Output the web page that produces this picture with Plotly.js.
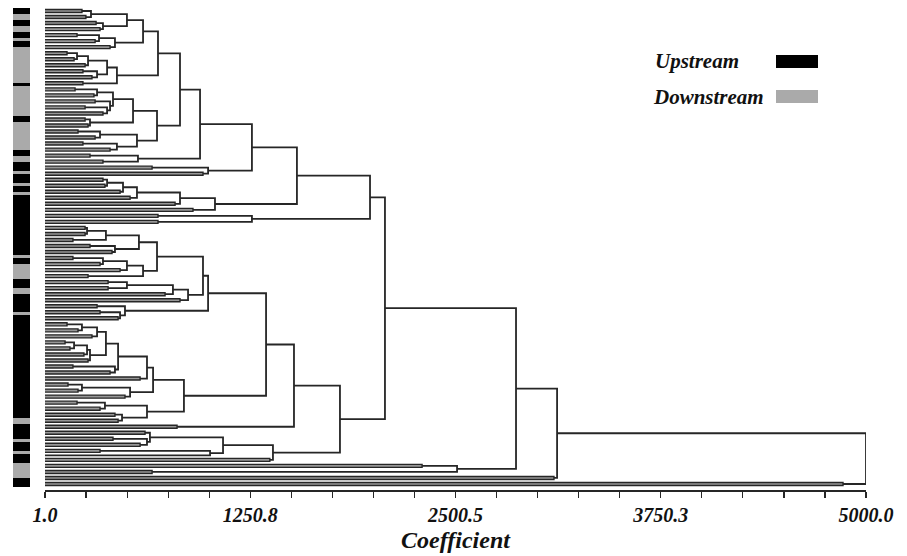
<!DOCTYPE html>
<html><head><meta charset="utf-8">
<script src="https://cdn.plot.ly/plotly-3.0.1.min.js"></script>
<style>html,body{margin:0;padding:0;background:#fff}#chart{width:907px;height:556px}</style>
</head><body><div id="chart"></div>
<script>
// ---------------- DATA ----------------
// Sample groups along the strip, top to bottom, as runs (U = Upstream, D = Downstream)
const runGroups  = ['U','D','U','D','U','D','U','D','U','D','U','D','U','D','U','D','U','D','U','D','U','D','U','D','U','D','U','D','U','D','U','D','U','D','U','D','U'];
const runLengths = [2,2,2,2,2,1,2,12,1,10,2,9,2,2,3,1,3,1,2,1,20,1,2,5,3,2,6,1,34,2,5,1,3,1,3,5,3];

// Dendrogram (coefficient values). A number = two samples joined at that coefficient,
// 'S' = single sample, [a, b, h] = clusters a and b joined at coefficient h.
const clusterA1 = [[[226, 250, 281], [312, 336, 354], 500], [[196, 306, 330], 397, 427], 598];
const clusterA2 = [[[[135, 178, 196], 245, 263], [232, 287, 318], 379], 232, 439];
const clusterB1 = [[[184, 299, 318], [306, [245, 354, 379], 397], 415], [245, 263, 275], 537];
const clusterB2 = [[202, 306, 336], [232, 397, 439], 561];
const clusterB3 = [275, 354, 567];
const clusterB4 = [653, 963, 994];
const clusterC1 = [[[[[354, 366, 379], 458, 476], 519, 561], 793, 823], 902, 1036];
const clusterC2 = [689, 689, 1261];
const clusterD1 = [[[245, 245, 257], 171, 372], [275, 409, 427], 573];
const clusterD2 = [[[171, 336, 354], 458, 500], 263, 598];
const clusterD3 = [[[385, 385, 500], 732, 780], 823, 872];
const clusterD4 = [318, [336, 446, 458], 488];
const clusterE1 = [[[[[135, 202, 226], 287, 318], [[[123, 153, 178], 238, 257], 263, 275], 372], [171, 397, 427], 446], 580, 622];
const clusterE2 = [[141, 202, 226], 488, 519];
const clusterE3 = [[196, 336, 366], [427, 446, 470], 622];
const clusterF1 = [[610, [415, 580, 622], 640], [336, 'S', 1006], 1085];
const clusterG1 = [2297, 653, 2510];

const nodeTop   = [[[[[clusterA1, clusterA2, 689], [clusterB1, clusterB2, 683], 823], clusterB3, 945], clusterB4, 1261], clusterC1, 1535];
const nodeMid   = [[[[clusterD1, clusterD2, 683], clusterD3, 963], clusterD4, 994], [[clusterE1, clusterE2, 659], clusterE3, 847], 1347];
const nodeLow   = [[nodeMid, 805, 1517], [clusterF1, 1370, 1389], 1797];
const treeRoot  = [[[[[nodeTop, clusterC2, 1980], nodeLow, 2071], clusterG1, 2869], 3100, 3119], 4860, 5000];

const tickValsX = [1, 1250.75, 2500.5, 3750.25, 5000];
const tickTextX = ['1.0', '1250.8', '2500.5', '3750.3', '5000.0'];
const legendNames = ['Upstream', 'Downstream'];

// ---------------- BUILD ----------------
const X0 = 1;
let leafIdx = 0;
const linkX = [], linkY = [], pairX = [], pairY = [];
function build(node) {
  if (node === 'S') { const y = leafIdx++; return {x: X0, y: y}; }
  if (typeof node === 'number') {
    const y0 = leafIdx++, y1 = leafIdx++;
    pairX.push(X0, node, node, X0, null); pairY.push(y0, y0, y1, y1, null);
    return {x: node, y: (y0 + y1) / 2};
  }
  const a = build(node[0]), b = build(node[1]), h = node[2];
  linkX.push(a.x, h, h, b.x, null); linkY.push(a.y, a.y, b.y, b.y, null);
  return {x: h, y: (a.y + b.y) / 2};
}
build(treeRoot);
const nLeaves = leafIdx;

const leafGroups = [];
runGroups.forEach((g, i) => { for (let k = 0; k < runLengths[i]; k++) leafGroups.push(g); });
const stripZ = leafGroups.map(g => [g === 'U' ? 0 : 1]);
const stripY = leafGroups.map((g, i) => i);

const W = 907, H = 556;
const plotL = 13, plotR = 866, plotT = 8, plotB = 490;
const pxX = p => (p - plotL) / (plotR - plotL);
const pxY = p => 1 - (p - plotT) / (plotB - plotT);

const lineCol = '#262626';
const serif = 'Liberation Serif, Times New Roman, serif';
const upCol = '#000000', downCol = '#aaaaaa';

const traces = [
  {type: 'heatmap', x: [0], y: stripY, z: stripZ, xaxis: 'x2', yaxis: 'y',
   colorscale: [[0, upCol], [1, downCol]], zmin: 0, zmax: 1, showscale: false, hoverinfo: 'skip'},
  {type: 'scatter', mode: 'lines', x: pairX, y: pairY, fill: 'toself', fillcolor: '#979797',
   line: {color: lineCol, width: 1.4}, hoverinfo: 'skip'},
  {type: 'scatter', mode: 'lines', x: linkX, y: linkY,
   line: {color: lineCol, width: 1.8}, hoverinfo: 'skip'}
];

const pxPerLeaf = (487 - 8) / nLeaves;
const yBottom = -0.5 + (plotB - plotT) / pxPerLeaf;

const fontBI = (s) => ({family: serif, size: s, color: '#111', weight: 'bold', style: 'italic'});

const layout = {
  width: W, height: H,
  margin: {l: plotL, r: W - plotR, t: plotT, b: H - plotB, pad: 0},
  paper_bgcolor: '#fff', plot_bgcolor: '#fff', showlegend: false,
  xaxis: {domain: [pxX(45), 1], range: [1, 5000], autorange: false,
    tickmode: 'array', tickvals: tickValsX, ticktext: tickTextX,
    ticks: 'outside', ticklen: 6, tickwidth: 1.2, tickcolor: lineCol,
    showline: true, linecolor: lineCol, linewidth: 1.5, showgrid: false, zeroline: false,
    minor: {tickmode: 'linear', tick0: 1, dtick: 249.95, ticks: 'outside', ticklen: 6, tickwidth: 1.2, tickcolor: lineCol, showgrid: false},
    tickfont: fontBI(20),
    title: {text: 'Coefficient', font: fontBI(24), standoff: 6}},
  xaxis2: {domain: [0, pxX(30)], range: [-0.5, 0.5], visible: false, anchor: 'y', fixedrange: true},
  yaxis: {range: [yBottom, -0.5], autorange: false, visible: false, showgrid: false, zeroline: false},
  annotations: [
    {xref: 'paper', yref: 'paper', x: pxX(653), y: pxY(61), xanchor: 'left', yanchor: 'middle', showarrow: false, text: legendNames[0], font: fontBI(21)},
    {xref: 'paper', yref: 'paper', x: pxX(651), y: pxY(97), xanchor: 'left', yanchor: 'middle', showarrow: false, text: legendNames[1], font: fontBI(21)}
  ],
  shapes: [
    {type: 'rect', xref: 'paper', yref: 'paper', x0: pxX(776), x1: pxX(818), y0: pxY(68), y1: pxY(55), fillcolor: upCol, line: {width: 0}},
    {type: 'rect', xref: 'paper', yref: 'paper', x0: pxX(776), x1: pxX(818), y0: pxY(103), y1: pxY(90), fillcolor: downCol, line: {width: 0}}
  ]
};

Plotly.newPlot('chart', traces, layout, {displayModeBar: false, staticPlot: true});
</script></body></html>
